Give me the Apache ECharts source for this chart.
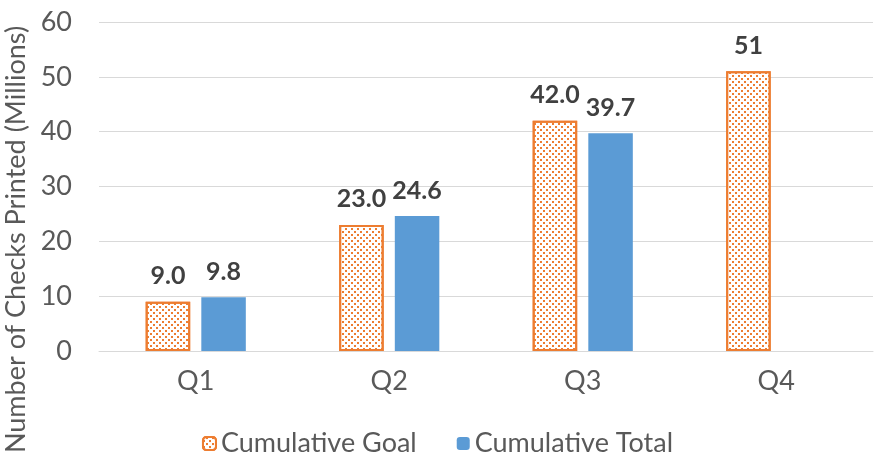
<!DOCTYPE html>
<html>
<head>
<meta charset="utf-8">
<script src="https://cdn.jsdelivr.net/npm/echarts@6/dist/echarts.min.js"></script>
<style>html,body{margin:0;padding:0;background:#fff}#c{width:875px;height:462px}</style>
</head>
<body>
<div id="c"></div>
<script>
var categories = ['Q1', 'Q2', 'Q3', 'Q4'];
var goalValues = [9.0, 23.0, 42.0, 51];
var goalLabels = ['9.0', '23.0', '42.0', '51'];
var totalValues = [9.8, 24.6, 39.7, null];
var totalLabels = ['9.8', '24.6', '39.7', ''];
var yTicks = [0, 10, 20, 30, 40, 50, 60];

var FONT = 'Lato, Carlito, Calibri, sans-serif';
var chart = echarts.init(document.getElementById('c'), null, {renderer: 'canvas'});
var labelStyle = {
  show: true, position: 'top', distance: 13,
  fontFamily: FONT, fontSize: 25, fontWeight: 'bold', color: '#404040'
};
chart.setOption({
  animation: false,
  backgroundColor: '#ffffff',
  grid: {left: 99, right: 2, top: 22, bottom: 111, containLabel: false, outerBoundsMode: 'none'},
  legend: {
    left: 'center', bottom: 0, itemWidth: 13, itemHeight: 13, itemGap: 40,
    textStyle: {fontFamily: FONT, fontSize: 27, color: '#595959'},
    data: ['Cumulative Goal', 'Cumulative Total']
  },
  xAxis: {
    type: 'category', data: categories,
    axisLine: {lineStyle: {color: '#D9D9D9', width: 1}},
    axisTick: {show: false},
    axisLabel: {fontFamily: FONT, fontSize: 27, color: '#595959', margin: 17}
  },
  yAxis: {
    type: 'value', min: yTicks[0], max: yTicks[yTicks.length - 1], interval: 10,
    name: 'Number of Checks Printed (Millions)',
    nameLocation: 'middle', nameGap: 68,
    nameTextStyle: {fontFamily: FONT, fontSize: 27, color: '#595959', padding: [0, 106, 0, 0]},
    axisLine: {show: false}, axisTick: {show: false},
    splitLine: {lineStyle: {color: '#D9D9D9', width: 1}},
    axisLabel: {fontFamily: FONT, fontSize: 27, color: '#595959', margin: 27}
  },
  series: [
    {
      name: 'Cumulative Goal', type: 'bar', barWidth: '23%', barGap: '25%',
      data: goalValues,
      itemStyle: {
        color: '#ffffff', borderColor: '#ED7D31', borderWidth: 2,
        decal: {
          symbol: 'rect', symbolSize: 1, color: '#ED7D31',
          dashArrayX: [[1.8, 3.6], [0, 2.7, 1.8, 0.9]], dashArrayY: [1.8, 1], rotation: 0
        }
      },
      label: Object.assign({}, labelStyle, {formatter: function (p) { return goalLabels[p.dataIndex]; }})
    },
    {
      name: 'Cumulative Total', type: 'bar', barWidth: '23%',
      data: totalValues,
      itemStyle: {color: '#5B9BD5'},
      label: Object.assign({}, labelStyle, {formatter: function (p) { return totalLabels[p.dataIndex]; }})
    }
  ]
});
</script>
</body>
</html>
